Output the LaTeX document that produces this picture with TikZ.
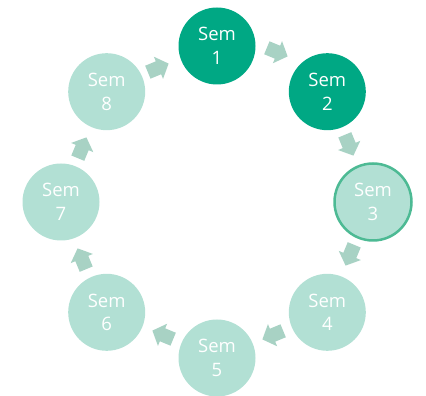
\documentclass[tikz,border=0pt]{standalone}
\usepackage{fontspec}
\setmainfont{Open Sans}
\definecolor{semdark}{RGB}{0,168,132}
\definecolor{semlight}{RGB}{178,224,212}
\definecolor{semborder}{RGB}{77,186,148}
\definecolor{semarrow}{RGB}{168,210,196}
\tikzset{
  semnode/.style={circle, minimum size=77pt, inner sep=0pt, text=white, align=center,
    font=\fontsize{18.5}{23.6}\selectfont},
  semdarknode/.style={semnode, fill=semdark},
  semlightnode/.style={semnode, fill=semlight},
  semcurrent/.style={semnode, fill=semlight, draw=semborder, line width=2.5pt},
  flowarrow/.style={fill=semarrow, draw=none},
  pics/blockarrow/.style={code={
    \fill[flowarrow] (-11,-7) -- (0.5,-7) -- (0.5,-12) -- (11.5,0) -- (0.5,12) -- (0.5,7) -- (-11,7) -- cycle;
  }}
}
\begin{document}
\begin{tikzpicture}[x=1pt,y=1pt]
\useasboundingbox (0,0) rectangle (426,396);
\node[semdarknode]  (s1) at ({217+156*cos(90)},{194+156*sin(90)}) {Sem\\1};
\node[semdarknode]  (s2) at ({217+156*cos(45)},{194+156*sin(45)}) {Sem\\2};
\node[semcurrent]   (s3) at ({217+156*cos(0)},{194+156*sin(0)}) {Sem\\3};
\node[semlightnode] (s4) at ({217+156*cos(-45)},{194+156*sin(-45)}) {Sem\\4};
\node[semlightnode] (s5) at ({217+156*cos(-90)},{194+156*sin(-90)}) {Sem\\5};
\node[semlightnode] (s6) at ({217+156*cos(-135)},{194+156*sin(-135)}) {Sem\\6};
\node[semlightnode] (s7) at ({217+156*cos(180)},{194+156*sin(180)}) {Sem\\7};
\node[semlightnode] (s8) at ({217+156*cos(135)},{194+156*sin(135)}) {Sem\\8};
\pic[rotate=-22.5]  (a12) at (277,344) {blockarrow};
\pic[rotate=-67.5]  (a23) at (349,251) {blockarrow};
\pic[rotate=-112.5] (a34) at (350,141) {blockarrow};
\pic[rotate=-157.5] (a45) at (273,61) {blockarrow};
\pic[rotate=157.5]  (a56) at (163,61) {blockarrow};
\pic[rotate=112.5]  (a67) at (82,137) {blockarrow};
\pic[rotate=67.5]   (a78) at (82,248) {blockarrow};
\pic[rotate=22.5]   (a81) at (158,328) {blockarrow};
\end{tikzpicture}
\end{document}
